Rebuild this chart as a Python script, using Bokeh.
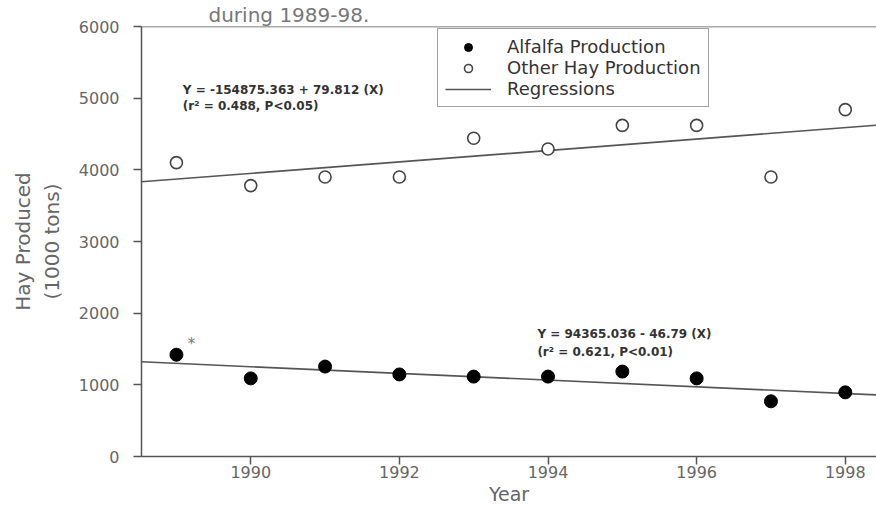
import numpy as np
from bokeh.plotting import figure
from bokeh.models import Range1d, Label, Span, Legend, LegendItem, FixedTicker
from bokeh.embed import file_html
from bokeh.resources import INLINE

# ---- data ----
years = [1989, 1990, 1991, 1992, 1993, 1994, 1995, 1996, 1997, 1998]
alfalfa = [1420, 1090, 1255, 1145, 1115, 1115, 1185, 1090, 770, 895]
other_hay = [4100, 3780, 3900, 3900, 4440, 4290, 4620, 4620, 3900, 4840]

reg_intercepts = [94365.036, -154875.363]   # alfalfa, other hay
reg_slopes = [-46.79, 79.812]
eq_line1 = ["Y = 94365.036 - 46.79 (X)", "Y = -154875.363 + 79.812 (X)"]
eq_line2 = ["(r\u00b2 = 0.621, P<0.01)", "(r\u00b2 = 0.488, P<0.05)"]

x_ticks = [1990, 1992, 1994, 1996, 1998]
y_ticks = [0, 1000, 2000, 3000, 4000, 5000, 6000]

FONT = "DejaVu Sans"
AXC = "#555555"
TXC = "#666666"

p = figure(width=876, height=510,
           x_range=Range1d(1988.53, 1998.42), y_range=Range1d(0, 6000),
           min_border_left=141, min_border_right=0, min_border_top=21,
           min_border_bottom=54, toolbar_location=None, output_backend="svg",
           title="during 1989-98.")
p.title.text_font = FONT
p.title.text_font_size = "20px"
p.title.text_font_style = "normal"
p.title.text_color = "#777777"
p.title.align = "left"
p.title.offset = 67
p.title.standoff = 0

p.grid.visible = False
p.outline_line_color = None
p.background_fill_color = "white"
p.border_fill_color = "white"

for ax in (p.xaxis[0], p.yaxis[0]):
    ax.axis_line_color = AXC
    ax.axis_line_width = 1.5
    ax.major_tick_line_color = AXC
    ax.major_tick_line_width = 1.5
    ax.major_tick_in = 0
    ax.major_tick_out = 8
    ax.minor_tick_line_color = None
    ax.major_label_text_font = FONT
    ax.major_label_text_font_size = "16px"
    ax.major_label_text_color = TXC
    ax.axis_label_text_font = FONT
    ax.axis_label_text_font_style = "normal"
    ax.axis_label_text_color = TXC

p.xaxis.ticker = FixedTicker(ticks=x_ticks)
p.yaxis.ticker = FixedTicker(ticks=y_ticks)
p.xaxis.major_label_standoff = 1
p.xaxis.axis_label = "Year"
p.xaxis.axis_label_text_font_size = "19px"
p.xaxis.axis_label_standoff = 2
p.yaxis.major_label_standoff = 14
p.yaxis.axis_label = "Hay Produced\n(1000 tons)"
p.yaxis.axis_label_text_font_size = "20px"
p.yaxis.axis_label_standoff = 12

# top frame line
p.add_layout(Span(location=y_ticks[-1], dimension="width", line_color=AXC, line_width=1.5))

# regression lines
x0, x1 = p.x_range.start, p.x_range.end
reg_renderers = []
for a, b in zip(reg_intercepts, reg_slopes):
    xs = np.array([x0, x1])
    r = p.line(xs, a + b * xs, line_color="#555555", line_width=1.6)
    reg_renderers.append(r)

r_alf = p.scatter(years, alfalfa, size=13, fill_color="black", line_color="black")
r_oth = p.scatter(years, other_hay, size=12, fill_color="white", line_color="#444444", line_width=1.6)

legend = Legend(items=[
    LegendItem(label="Alfalfa Production", renderers=[r_alf]),
    LegendItem(label="Other Hay Production", renderers=[r_oth]),
    LegendItem(label="Regressions", renderers=[reg_renderers[0]]),
], location=(296, 349))
legend.label_text_font = FONT
legend.label_text_font_size = "18px"
legend.label_text_color = "#333333"
legend.border_line_color = "#444444"
legend.border_line_width = 1.5
legend.background_fill_alpha = 1.0
legend.glyph_width = 46
legend.glyph_height = 20
legend.label_height = 20
legend.label_standoff = 16
legend.spacing = 0
legend.padding = 7
legend.margin = 0
p.add_layout(legend)

# regression equations
eq_pos = [(1993.857, 1710, 1462), (1989.086, 5117, 4897)]
for (ex, ey1, ey2), t1, t2 in zip(eq_pos, eq_line1, eq_line2):
    for ey, t in ((ey1, t1), (ey2, t2)):
        p.add_layout(Label(x=ex, y=ey, text=t, text_font=FONT, text_font_size="12px",
                           text_font_style="bold", text_color="#333333",
                           text_align="left", text_baseline="middle"))

# asterisk next to the 1989 alfalfa point
p.add_layout(Label(x=years[0], y=alfalfa[0], text="*", x_offset=15, y_offset=11,
                   text_font=FONT, text_font_size="15px", text_color="#777777",
                   text_align="center", text_baseline="middle"))

open("out.html", "w").write(file_html(p, INLINE))
